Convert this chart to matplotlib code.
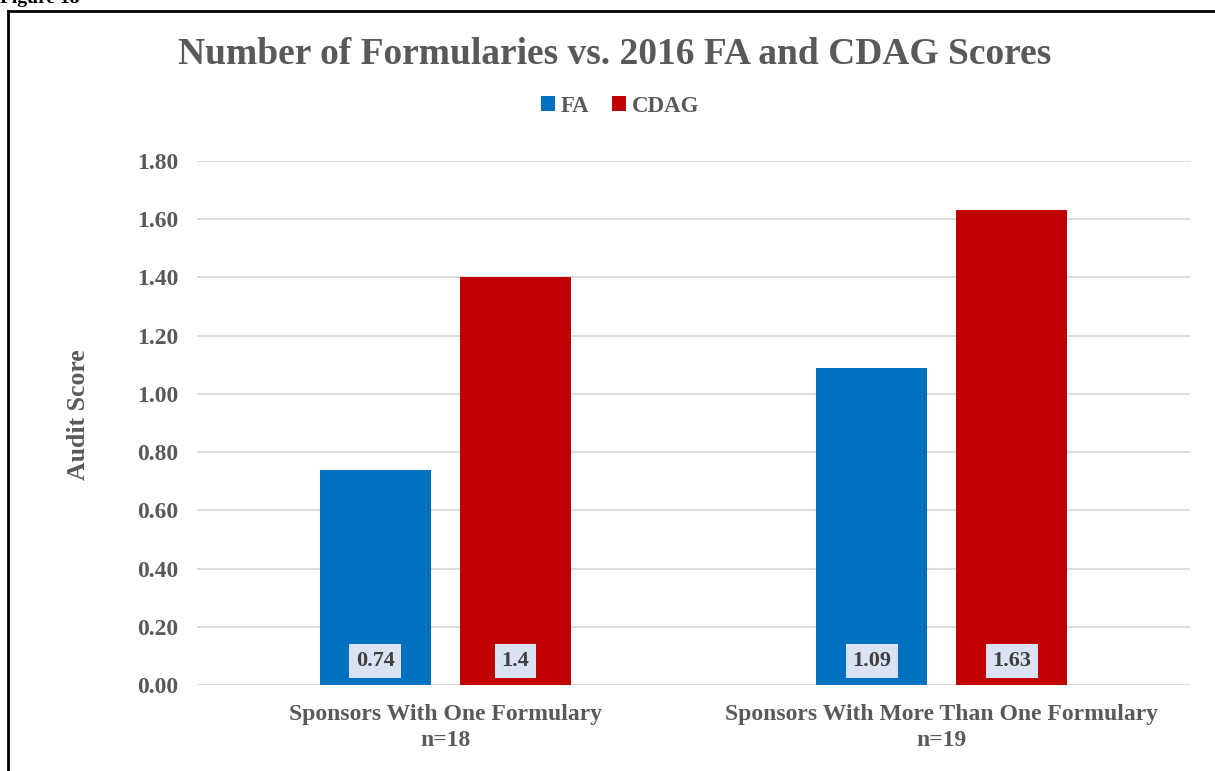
import matplotlib.pyplot as plt
from matplotlib.lines import Line2D
import numpy as np

categories = ['Sponsors With One Formulary\nn=18', 'Sponsors With More Than One Formulary\nn=19']
fa_scores = [0.74, 1.09]
cdag_scores = [1.4, 1.63]
fa_labels = ['0.74', '1.09']
cdag_labels = ['1.4', '1.63']
y_ticks = [0.0, 0.2, 0.4, 0.6, 0.8, 1.0, 1.2, 1.4, 1.6, 1.8]

W, H = 1215, 771
TEXT_GREY = '#595959'
FA_BLUE = '#0070C0'
CDAG_RED = '#C00000'
plt.rcParams['font.family'] = 'Liberation Serif'
plt.rcParams['font.weight'] = 'bold'

fig = plt.figure(figsize=(W / 100, H / 100), dpi=100)
fig.patch.set_facecolor('white')

# outer frame (left and top edges only)
fig.add_artist(Line2D([8 / W, 8 / W], [0, 1 - 11 / H], transform=fig.transFigure, color='black', lw=2))
fig.add_artist(Line2D([8 / W, 1], [1 - 11 / H, 1 - 11 / H], transform=fig.transFigure, color='black', lw=2))
fig.text(0, 1 - 3 / H, 'Figure 18', fontsize=14, fontweight='bold', color='black', ha='left', va='baseline')

ax = fig.add_axes([197 / W, (H - 685) / H, (1190 - 197) / W, (685 - 161) / H])
x = np.arange(len(categories))
bar_w = 0.224
offset = 0.141
fa_bars = ax.bar(x - offset, fa_scores, bar_w, color=FA_BLUE, label='FA', zorder=3)
cdag_bars = ax.bar(x + offset, cdag_scores, bar_w, color=CDAG_RED, label='CDAG', zorder=3)

# value boxes near the bottom of each bar
box = dict(boxstyle='square,pad=0.3', facecolor='#DAE3F3', edgecolor='none')
for bars, labels in [(fa_bars, fa_labels), (cdag_bars, cdag_labels)]:
    for b, lab in zip(bars, labels):
        ax.text(b.get_x() + b.get_width() / 2, 0.083, lab, ha='center', va='center',
                fontsize=16, fontweight='bold', color='#404040', bbox=box, zorder=4)

ax.set_xlim(-0.5, 1.5)
ax.set_ylim(0, 1.8)
ax.set_yticks(y_ticks)
ax.set_yticklabels([f'{v:.2f}' for v in y_ticks])
ax.set_xticks(x)
ax.set_xticklabels(categories, linespacing=1.3)
ax.tick_params(axis='both', length=0, labelsize=17, labelcolor=TEXT_GREY)
ax.tick_params(axis='y', pad=13.5)
ax.tick_params(axis='x', pad=14)
ax.yaxis.grid(True, color='#D9D9D9', lw=1.3, zorder=0)
for s in ax.spines.values():
    s.set_visible(False)
ax.set_ylabel('Audit Score', fontsize=18.5, fontweight='bold', color=TEXT_GREY)
ax.yaxis.set_label_coords((90 - 197) / (1190 - 197), (685 - 415) / (685 - 161))

fig.text(615 / W, 1 - 55 / H, 'Number of Formularies vs. 2016 FA and CDAG Scores',
         ha='center', va='center', fontsize=27, fontweight='bold', color=TEXT_GREY)

fig.legend(handles=[fa_bars, cdag_bars], loc='center', bbox_to_anchor=(620 / W, 1 - 106 / H),
           ncol=2, frameon=False, fontsize=16.5, handlelength=0.6, handleheight=0.6,
           handletextpad=0.25, columnspacing=1.0, labelcolor=TEXT_GREY)

fig.savefig('out.png', dpi=100)
